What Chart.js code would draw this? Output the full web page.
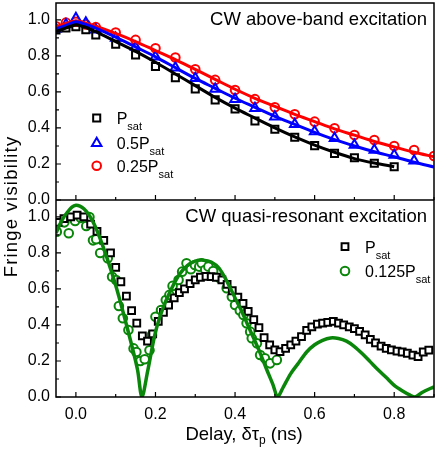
<!DOCTYPE html>
<html lang="en">
<head>
<meta charset="UTF-8" />
<title>Fringe visibility</title>
<script src="https://cdn.jsdelivr.net/npm/chart.js@4"></script>
<style>
  html, body { margin: 0; padding: 0; background: #fff; }
  canvas { display: block; }
</style>
</head>
<body>
<canvas id="chart" width="436" height="451"></canvas>
<script>
  // ---- data ----
  // top panel: CW above-band excitation (delay in ns)
  const topDelay = [-0.05, -0.025, 0, 0.025, 0.05, 0.1, 0.15, 0.2, 0.25, 0.3, 0.35,
                    0.4, 0.45, 0.5, 0.55, 0.6, 0.65, 0.7, 0.75, 0.8, 0.85, 0.9];
  const abovePsat = [0.944, 0.955, 0.962, 0.945, 0.917, 0.865, 0.806, 0.741, 0.679, 0.617,
                     0.556, 0.506, 0.439, 0.393, 0.348, 0.302, 0.259, 0.235, 0.204, 0.185];
  const aboveHalf = [0.95, 0.975, 1.01, 0.985, 0.945, 0.9, 0.85, 0.795, 0.735, 0.676, 0.617,
                     0.559, 0.509, 0.463, 0.42, 0.38, 0.343, 0.306, 0.278, 0.25, 0.218];
  const aboveQuarter = [0.965, 0.985, 0.99, 0.975, 0.96, 0.93, 0.889, 0.843, 0.791, 0.726, 0.667,
                        0.611, 0.56, 0.515, 0.476, 0.435, 0.398, 0.361, 0.333, 0.3, 0.278, 0.244];
  const fitPsat = [0.935, 0.955, 0.972, 0.958, 0.935, 0.88, 0.825, 0.765, 0.7, 0.635,
                   0.57, 0.51, 0.455, 0.4, 0.35, 0.305, 0.265, 0.23, 0.205, 0.185];
  const fitHalf = [0.95, 0.97, 0.99, 0.975, 0.955, 0.905, 0.85, 0.795, 0.735, 0.675, 0.62,
                   0.565, 0.515, 0.465, 0.42, 0.375, 0.335, 0.3, 0.268, 0.24, 0.21, 0.183];
  const fitQuarter = [0.962, 0.98, 0.995, 0.982, 0.965, 0.925, 0.88, 0.83, 0.78, 0.725, 0.67,
                      0.615, 0.565, 0.52, 0.475, 0.435, 0.395, 0.36, 0.325, 0.295, 0.265, 0.24];

  // bottom panel: CW quasi-resonant excitation
  const qrPsatDelay = [-0.045, -0.03, -0.013, 0.003, 0.02, 0.037, 0.053, 0.07, 0.087, 0.1,
                       0.113, 0.127, 0.14, 0.153, 0.167, 0.18, 0.193, 0.207, 0.22, 0.233,
                       0.247, 0.26, 0.273, 0.287, 0.3, 0.313, 0.327, 0.34, 0.353, 0.367,
                       0.38, 0.393, 0.407, 0.42, 0.433, 0.447, 0.46, 0.473, 0.487, 0.5,
                       0.513, 0.527, 0.54, 0.553, 0.567, 0.58, 0.593, 0.607, 0.62, 0.633,
                       0.647, 0.66, 0.673, 0.687, 0.7, 0.713, 0.727, 0.74, 0.753, 0.767,
                       0.78, 0.793, 0.807, 0.82, 0.833, 0.847, 0.86, 0.873, 0.887];
  const qrPsat = [0.97, 0.99, 1.0, 1.01, 1.0, 0.96, 0.92, 0.87, 0.8, 0.72,
                  0.64, 0.56, 0.48, 0.41, 0.34, 0.31, 0.35, 0.42, 0.47, 0.51,
                  0.55, 0.58, 0.6, 0.63, 0.65, 0.665, 0.67, 0.668, 0.665, 0.65,
                  0.625, 0.59, 0.555, 0.52, 0.475, 0.43, 0.385, 0.33, 0.29, 0.262,
                  0.252, 0.27, 0.29, 0.31, 0.335, 0.37, 0.39, 0.405, 0.41, 0.415,
                  0.42, 0.41, 0.4, 0.39, 0.38, 0.365, 0.345, 0.32, 0.3, 0.283,
                  0.27, 0.262, 0.255, 0.25, 0.243, 0.233, 0.224, 0.25, 0.26];
  const qrLowDelay = [-0.048, -0.029, -0.018, -0.002, 0.012, 0.026, 0.034, 0.043, 0.051, 0.061,
                      0.08, 0.091, 0.101, 0.108, 0.118, 0.132, 0.145, 0.152, 0.162, 0.173,
                      0.185, 0.191, 0.2, 0.214, 0.226, 0.235, 0.243, 0.258, 0.267, 0.278,
                      0.289, 0.299, 0.31, 0.316, 0.325, 0.333, 0.345, 0.362, 0.379, 0.392,
                      0.4, 0.412, 0.421, 0.429, 0.438, 0.442, 0.455, 0.463, 0.475, 0.488, 0.505];
  const qrLow = [0.918, 0.97, 0.909, 0.978, 0.995, 0.95, 1.0, 0.87, 0.876, 0.8,
                 0.77, 0.668, 0.65, 0.505, 0.437, 0.372, 0.27, 0.25, 0.2, 0.21,
                 0.26, 0.344, 0.446, 0.483, 0.539, 0.567, 0.617, 0.65, 0.696, 0.743,
                 0.71, 0.733, 0.724, 0.743, 0.706, 0.724, 0.7, 0.659, 0.604, 0.557,
                 0.511, 0.48, 0.456, 0.409, 0.363, 0.326, 0.298, 0.233, 0.215, 0.187, 0.206];
  const qrFitDelay = [-0.05, -0.04, -0.03, -0.02, -0.01, 0, 0.01, 0.02, 0.03, 0.04, 0.05,
                      0.06, 0.08, 0.1, 0.12, 0.14, 0.155, 0.166, 0.18, 0.2,
                      0.22, 0.24, 0.26, 0.28, 0.3, 0.32, 0.34, 0.36, 0.38, 0.4,
                      0.42, 0.44, 0.46, 0.48, 0.495, 0.507, 0.52, 0.54, 0.56, 0.58,
                      0.6, 0.62, 0.64, 0.66, 0.68, 0.7, 0.72, 0.74, 0.76, 0.78,
                      0.8, 0.82, 0.84, 0.853, 0.87, 0.9];
  const qrFit = [0.91, 0.96, 1.0, 1.03, 1.055, 1.065, 1.06, 1.045, 1.02, 0.985, 0.94,
                 0.885, 0.76, 0.62, 0.46, 0.29, 0.15, 0.0, 0.14, 0.36,
                 0.5, 0.6, 0.68, 0.73, 0.755, 0.76, 0.75, 0.715, 0.64, 0.55,
                 0.46, 0.36, 0.26, 0.15, 0.07, 0.0, 0.05, 0.13, 0.19, 0.25,
                 0.29, 0.315, 0.328, 0.325, 0.31, 0.28, 0.24, 0.195, 0.15, 0.108,
                 0.065, 0.035, 0.01, 0.0, 0.025, 0.057];

  const xMajor = [0, 0.2, 0.4, 0.6, 0.8];
  const xMinor = [0.1, 0.3, 0.5, 0.7, 0.9];
  const yMajor = [0, 0.2, 0.4, 0.6, 0.8, 1.0];
  const yMinor = [0.1, 0.3, 0.5, 0.7, 0.9];

  const BLUE = "#0000ff", RED = "#ff0000", GREEN = "#0a860a", BLACK = "#000000";
  const FONT = '"Liberation Sans", Arial, sans-serif';

  const pts = (xs, ys) => ys.map((y, i) => ({ x: xs[i], y: y }));

  function markers(label, xs, ys, color, style, r, axis, fill) {
    return {
      label: label, data: pts(xs, ys), yAxisID: axis, showLine: false, order: 2,
      pointStyle: style, pointRadius: r, pointBorderWidth: 2,
      borderColor: color, pointBorderColor: color,
      pointBackgroundColor: fill || "rgba(0,0,0,0)", backgroundColor: fill || "rgba(0,0,0,0)"
    };
  }
  function fit(xs, ys, color, axis, w) {
    return {
      data: pts(xs, ys), yAxisID: axis, showLine: true, order: 1,
      borderColor: color, borderWidth: w, pointRadius: 0, tension: 0.3, fill: false
    };
  }

  // frame, inward ticks, titles and legends
  const decorations = {
    id: "decorations",
    afterDatasetsDraw(chart) {
      const { ctx, chartArea: a, scales } = chart;
      const sx = scales.x, yt = scales.yTop, yb = scales.yBot;
      ctx.save();
      ctx.strokeStyle = BLACK;
      ctx.lineWidth = 1.5;
      ctx.strokeRect(a.left, a.top, a.right - a.left, a.bottom - a.top);
      ctx.beginPath();
      ctx.moveTo(a.left, yt.bottom);
      ctx.lineTo(a.right, yt.bottom);
      ctx.stroke();

      ctx.lineWidth = 1.2;
      ctx.beginPath();
      [yt, yb].forEach(ys => {
        xMajor.forEach(v => { const px = sx.getPixelForValue(v); ctx.moveTo(px, ys.bottom); ctx.lineTo(px, ys.bottom - 5); });
        xMinor.forEach(v => { const px = sx.getPixelForValue(v); ctx.moveTo(px, ys.bottom); ctx.lineTo(px, ys.bottom - 3); });
        yMajor.forEach(v => { const py = ys.getPixelForValue(v); ctx.moveTo(a.left, py); ctx.lineTo(a.left + 5, py); });
        yMinor.forEach(v => { const py = ys.getPixelForValue(v); ctx.moveTo(a.left, py); ctx.lineTo(a.left + 3, py); });
      });
      ctx.stroke();

      ctx.fillStyle = BLACK;
      ctx.textBaseline = "alphabetic";
      // panel titles
      ctx.font = "18.5px " + FONT;
      ctx.textAlign = "right";
      ctx.fillText("CW above-band excitation", a.right - 7, yt.top + 22);
      ctx.fillText("CW quasi-resonant excitation", a.right - 7, yb.top + 22);

      // legends
      const legendRow = (x, y, color, style, r, main, fill) => {
        ctx.fillStyle = fill || "rgba(0,0,0,0)";
        ctx.strokeStyle = color;
        ctx.lineWidth = 2;
        Chart.helpers.drawPoint(ctx, { pointStyle: style, radius: r, rotation: 0, borderWidth: 2 }, x, y);
        ctx.fillStyle = BLACK;
        ctx.textAlign = "left";
        ctx.font = "16px " + FONT;
        ctx.fillText(main, x + 20, y + 6);
        const w = ctx.measureText(main).width;
        ctx.font = "11px " + FONT;
        ctx.fillText("sat", x + 20 + w, y + 12);
      };
      legendRow(96.7, yt.getPixelForValue(0.455), BLACK, "rect", 5, "P");
      legendRow(96.7, yt.getPixelForValue(0.315), BLUE, "triangle", 5.5, "0.5P");
      legendRow(96.7, yt.getPixelForValue(0.19), RED, "circle", 4.3, "0.25P");
      legendRow(345, yb.getPixelForValue(0.835), BLACK, "rect", 4.8, "P", "#fff");
      legendRow(345, yb.getPixelForValue(0.7), GREEN, "circle", 4.3, "0.125P", "#fff");

      // x axis title with subscript
      ctx.font = "18.5px " + FONT;
      const t1 = "Delay, \u03b4\u03c4", t3 = " (ns)";
      const w1 = ctx.measureText(t1).width, w3 = ctx.measureText(t3).width;
      ctx.font = "12px " + FONT;
      const w2 = ctx.measureText("p").width;
      const tx = 244 - (w1 + w2 + w3) / 2;
      ctx.textAlign = "left";
      ctx.font = "18.5px " + FONT;
      ctx.fillText(t1, tx, 440);
      ctx.font = "12px " + FONT;
      ctx.fillText("p", tx + w1, 444);
      ctx.font = "18.5px " + FONT;
      ctx.fillText(t3, tx + w1 + w2, 440);

      // y axis title
      ctx.save();
      ctx.translate(16.5, 206.5);
      ctx.rotate(-Math.PI / 2);
      ctx.textAlign = "center";
      ctx.font = "18.5px " + FONT;
      if ("letterSpacing" in ctx) ctx.letterSpacing = "1.2px";
      ctx.fillText("Fringe visibility", 0, 0);
      ctx.restore();
      ctx.restore();
    }
  };

  const noPad = s => { s.paddingTop = 0; s.paddingBottom = 0; s.paddingLeft = 0; s.paddingRight = 0; };

  const yScale = (weight) => ({
    type: "linear", position: "left", stack: "panels", stackWeight: 1, weight: weight,
    min: 0, max: 1.094,
    grid: { display: false, drawTicks: false }, border: { display: false },
    ticks: { color: BLACK, font: { family: FONT, size: 16 }, padding: 6, autoSkip: false,
             callback: v => Number(v).toFixed(1) },
    afterBuildTicks: s => { s.ticks = yMajor.map(v => ({ value: v })); },
    afterFit: s => { s.width = 56; noPad(s); }
  });

  new Chart(document.getElementById("chart"), {
    type: "scatter",
    data: {
      datasets: [
        markers("Psat", topDelay.slice(0, abovePsat.length), abovePsat, BLACK, "rect", 5, "yTop"),
        markers("0.5Psat", topDelay.slice(0, aboveHalf.length), aboveHalf, BLUE, "triangle", 5.5, "yTop"),
        markers("0.25Psat", topDelay, aboveQuarter, RED, "circle", 4.3, "yTop"),
        fit(topDelay.slice(0, fitPsat.length), fitPsat, BLACK, "yTop", 3),
        fit(topDelay, fitHalf, BLUE, "yTop", 3),
        fit(topDelay, fitQuarter, RED, "yTop", 3),
        markers("Psat qr", qrPsatDelay, qrPsat, BLACK, "rect", 4.8, "yBot", "#fff"),
        markers("0.125Psat", qrLowDelay, qrLow, GREEN, "circle", 4.3, "yBot", "#fff"),
        fit(qrFitDelay, qrFit, GREEN, "yBot", 3.5)
      ]
    },
    options: {
      responsive: false,
      animation: false,
      devicePixelRatio: 1,
      layout: { autoPadding: false, padding: { top: 3, right: 2, left: 0, bottom: 0 } },
      plugins: { legend: { display: false }, tooltip: { enabled: false } },
      scales: {
        x: {
          type: "linear", min: -0.05, max: 0.9, position: "bottom",
          grid: { display: false, drawTicks: false }, border: { display: false },
          ticks: { color: BLACK, font: { family: FONT, size: 16 }, padding: 8, autoSkip: false,
                   maxRotation: 0, callback: v => Number(v).toFixed(1) },
          afterBuildTicks: s => { s.ticks = xMajor.map(v => ({ value: v })); },
          afterFit: s => { s.height = 54; noPad(s); }
        },
        yTop: yScale(2),
        yBot: yScale(1)
      }
    },
    plugins: [decorations]
  });
</script>
</body>
</html>
